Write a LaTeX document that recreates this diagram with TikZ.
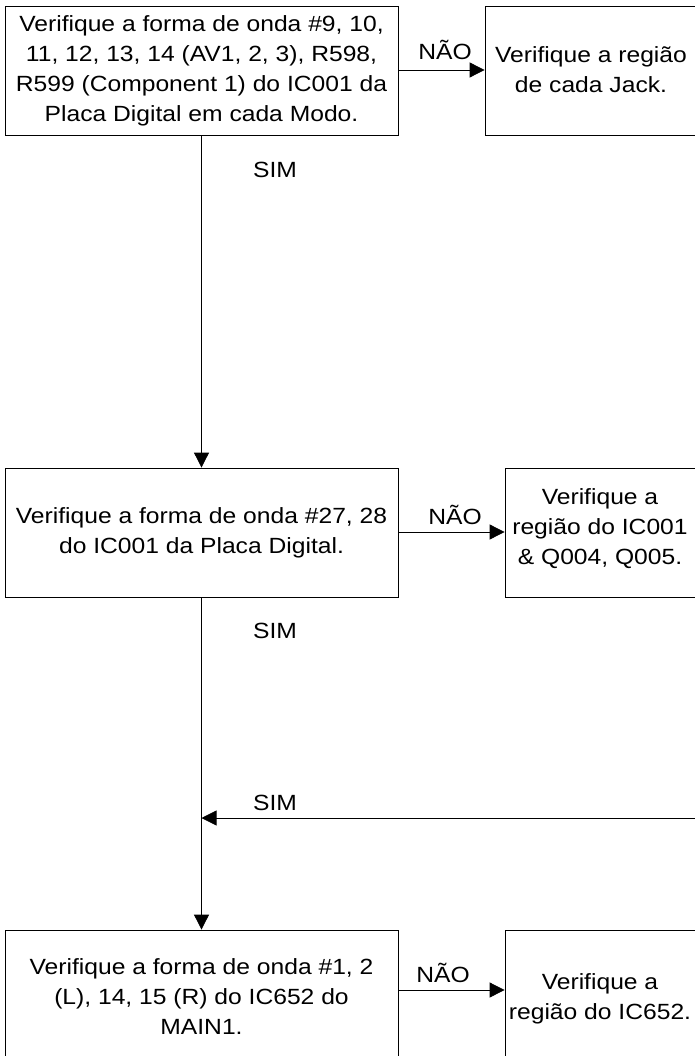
\documentclass[tikz,border=0pt]{standalone}
\usepackage{fontspec}
\setmainfont{Liberation Sans}[FakeStretch=1.12]
\usetikzlibrary{arrows.meta}
\begin{document}
\begin{tikzpicture}[x=1pt,y=-1pt,
  box/.style={draw,line width=0.8pt,align=center,inner sep=0pt,
    font=\fontsize{22}{30}\selectfont},
  txt/.style={align=center,font=\fontsize{22}{30}\selectfont,inner sep=0pt},
  lbl/.style={font=\fontsize{22}{24}\selectfont,inner sep=0pt},
  arr/.style={line width=0.8pt,-{Triangle[length=15pt,width=15pt]}}]
\useasboundingbox (0,0) rectangle (695,1056);
\clip (0,0) rectangle (695,1056);
\fill[white] (0,0) rectangle (695,1056);
% boxes
\node[box,minimum width=393pt,minimum height=129pt] (b1) at (201.5,70.5)
  {Verifique a forma de onda \#9, 10,\\11, 12, 13, 14 (AV1, 2, 3), R598,\\R599 (Component 1) do IC001 da\\Placa Digital em cada Modo.};
\node[box,minimum width=230pt,minimum height=129pt] (r1) at (600,70.5) {};
\node[txt] (r1t) at (591,70) {Verifique a região\\de cada Jack.};
\node[box,minimum width=393pt,minimum height=129pt] (b2) at (201.5,532.5)
  {Verifique a forma de onda \#27, 28\\do IC001 da Placa Digital.};
\node[box,minimum width=210pt,minimum height=129pt] (r2) at (610,532.5) {};
\node[txt] (r2t) at (600,529) {Verifique a\\região do IC001\\\& Q004, Q005.};
\node[box,minimum width=393pt,minimum height=134pt] (b3) at (201.5,997)
  {Verifique a forma de onda \#1, 2\\(L), 14, 15 (R) do IC652 do\\MAIN1.};
\node[box,minimum width=210pt,minimum height=134pt] (r3) at (610,997) {};
\node[txt] (r3t) at (600,999) {Verifique a\\região do IC652.};
% connectors
\draw[arr] (b1.east |- 0,70) -- (r1.west |- 0,70);
\node[lbl] (n1) at (445,50) {NÃO};
\draw[arr] (b1.south) -- (b2.north);
\node[lbl] (s1) at (275,170) {SIM};
\draw[arr] (b2.east |- 0,532) -- (r2.west |- 0,532);
\node[lbl] (n2) at (455,515) {NÃO};
\draw[arr] (b2.south) -- (b3.north);
\node[lbl] (s2) at (275,631) {SIM};
\coordinate (rin) at (700,818);
\coordinate (jn) at (b2.south |- 0,818);
\draw[arr] (rin) -- (jn);
\node[lbl] (s3) at (275,803) {SIM};
\draw[arr] (b3.east |- 0,990) -- (r3.west |- 0,990);
\node[lbl] (n3) at (443,973) {NÃO};
\end{tikzpicture}
\end{document}
